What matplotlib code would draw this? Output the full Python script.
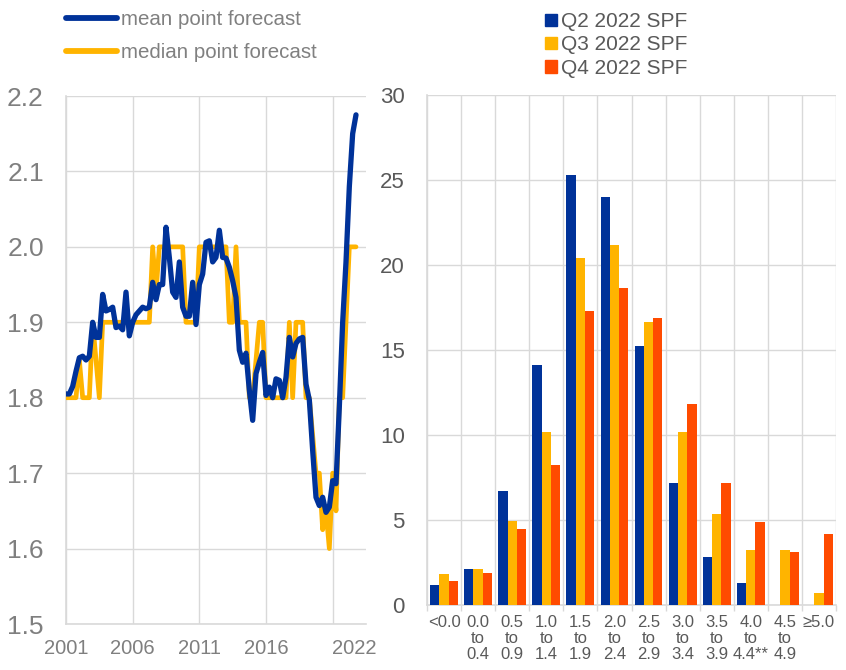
import matplotlib
matplotlib.use("Agg")
import matplotlib.pyplot as plt
import numpy as np
from matplotlib.lines import Line2D
from matplotlib.patches import Patch

plt.rcParams['font.family'] = ['Liberation Sans', 'DejaVu Sans']

# ---------------- data: left panel (quarterly, 2001Q1 - 2022Q4) ----------------
start_year = 2001
mean_forecast = [
    1.805, 1.805, 1.815, 1.835, 1.853, 1.855, 1.850, 1.855, 1.900, 1.880,
    1.880, 1.937, 1.915, 1.917, 1.920, 1.893, 1.895, 1.890, 1.940, 1.882,
    1.900, 1.910, 1.915, 1.920, 1.918, 1.920, 1.953, 1.930, 1.950, 1.950,
    2.026, 1.986, 1.940, 1.933, 1.980, 1.920, 1.908, 1.908, 1.953, 1.897,
    1.950, 1.964, 2.006, 2.008, 1.980, 1.986, 2.022, 1.986, 1.985, 1.973,
    1.955, 1.933, 1.863, 1.847, 1.859, 1.810, 1.770, 1.832, 1.847, 1.860,
    1.803, 1.814, 1.800, 1.825, 1.823, 1.800, 1.827, 1.880, 1.854, 1.872,
    1.878, 1.880, 1.818, 1.797, 1.730, 1.668, 1.657, 1.668, 1.648, 1.655,
    1.690, 1.686, 1.788, 1.900, 1.980, 2.080, 2.150, 2.175,
]
median_forecast = [
    1.80, 1.80, 1.80, 1.80, 1.85, 1.80, 1.80, 1.80, 1.90, 1.85,
    1.80, 1.90, 1.90, 1.90, 1.90, 1.90, 1.90, 1.90, 1.90, 1.90,
    1.90, 1.90, 1.90, 1.90, 1.90, 1.90, 2.00, 1.94, 2.00, 2.00,
    2.00, 2.00, 2.00, 2.00, 2.00, 2.00, 1.90, 1.90, 1.90, 1.90,
    2.00, 2.00, 2.00, 2.00, 2.00, 2.00, 2.00, 2.00, 2.00, 1.90,
    1.90, 2.00, 1.90, 1.90, 1.90, 1.80, 1.80, 1.85, 1.90, 1.90,
    1.80, 1.80, 1.80, 1.80, 1.80, 1.80, 1.80, 1.90, 1.80, 1.90,
    1.90, 1.90, 1.80, 1.80, 1.75, 1.70, 1.70, 1.625, 1.65, 1.60,
    1.70, 1.65, 1.80, 1.80, 1.90, 2.00, 2.00, 2.00,
]
left_yticks = [1.5, 1.6, 1.7, 1.8, 1.9, 2.0, 2.1, 2.2]
left_xticks = [2001, 2006, 2011, 2016, 2021]
left_xlabels = ['2001', '2006', '2011', '2016', '']
last_label = '2022'

# ---------------- data: right panel ----------------
categories = ['<0.0', '0.0\nto\n0.4', '0.5\nto\n0.9', '1.0\nto\n1.4', '1.5\nto\n1.9',
              '2.0\nto\n2.4', '2.5\nto\n2.9', '3.0\nto\n3.4', '3.5\nto\n3.9',
              '4.0\nto\n4.4**', '4.5\nto\n4.9', '\u22655.0']
q2_2022 = [1.18, 2.12, 6.70, 14.10, 25.28, 23.99, 15.23, 7.20, 2.84, 1.31, 0.0, 0.0]
q3_2022 = [1.84, 2.12, 4.94, 10.20, 20.39, 21.18, 16.66, 10.16, 5.33, 3.24, 3.24, 0.73]
q4_2022 = [1.41, 1.90, 4.49, 8.24, 17.27, 18.64, 16.90, 11.82, 7.20, 4.86, 3.12, 4.16]
series_names = ['Q2 2022 SPF', 'Q3 2022 SPF', 'Q4 2022 SPF']

BLUE = '#003299'
YELLOW = '#FFB400'
RED = '#FF4B00'
GRID = '#d9d9d9'

fig = plt.figure(figsize=(8.46, 6.70), dpi=100)

# ---------------- left panel ----------------
axL = fig.add_axes([66/846, 1-624/670, 300/846, 528/670])
x = start_year + np.arange(len(mean_forecast)) / 4.0
axL.plot(x, median_forecast, color=YELLOW, lw=3.4, solid_joinstyle='round', solid_capstyle='round', zorder=3)
axL.plot(x, mean_forecast, color=BLUE, lw=3.8, solid_joinstyle='round', solid_capstyle='round', zorder=4)
axL.set_xlim(2001, 2023.5)
axL.set_ylim(1.5, 2.2)
axL.set_yticks(left_yticks)
axL.set_yticklabels([f'{v:.1f}' for v in left_yticks])
axL.set_xticks(left_xticks)
axL.set_xticklabels(left_xlabels)
axL.set_xticks([2022.65], minor=True)
axL.set_xticklabels([last_label], minor=True)
axL.grid(True, which='major', color=GRID, lw=1.0)
axL.set_axisbelow(True)
for s in ['top', 'right']:
    axL.spines[s].set_visible(False)
for s in ['left', 'bottom']:
    axL.spines[s].set_color(GRID)
    axL.spines[s].set_linewidth(1.2)
axL.tick_params(axis='y', length=0, pad=16, labelsize=19, labelcolor='#7f7f7f')
axL.tick_params(axis='x', which='both', length=0, pad=11, labelsize=14.5, labelcolor='#7f7f7f')

handlesL = [Line2D([0], [0], color=BLUE, lw=4.2, solid_capstyle='round'),
            Line2D([0], [0], color=YELLOW, lw=4.2, solid_capstyle='round')]
fig.legend(handlesL, ['mean point forecast', 'median point forecast'],
           loc='upper left', bbox_to_anchor=(58/846, 1-2/670), frameon=False,
           fontsize=14.8, labelcolor='#808080', handlelength=2.45, handletextpad=0.2,
           labelspacing=0.68, borderaxespad=0)

# ---------------- right panel ----------------
axR = fig.add_axes([427/846, 1-605/670, 409/846, 510/670])
idx = np.arange(len(categories))
w = 0.273
axR.bar(idx - w, q2_2022, width=w, color=BLUE, label=series_names[0], zorder=3)
axR.bar(idx, q3_2022, width=w, color=YELLOW, label=series_names[1], zorder=3)
axR.bar(idx + w, q4_2022, width=w, color=RED, label=series_names[2], zorder=3)
axR.set_xlim(-0.5, len(categories) - 0.5)
axR.set_ylim(0, 30)
axR.set_yticks([0, 5, 10, 15, 20, 25, 30])
axR.set_xticks(idx)
axR.set_xticklabels(categories, linespacing=1.1, va='top')
axR.set_xticks(np.arange(len(categories) + 1) - 0.5, minor=True)
axR.grid(True, axis='y', which='major', color=GRID, lw=1.0)
axR.grid(True, axis='x', which='minor', color=GRID, lw=1.0)
axR.set_axisbelow(True)
for s in ['top', 'right']:
    axR.spines[s].set_visible(False)
for s in ['left', 'bottom']:
    axR.spines[s].set_color(GRID)
    axR.spines[s].set_linewidth(1.2)
axR.tick_params(axis='y', length=0, pad=16, labelsize=16, labelcolor='#595959')
axR.tick_params(axis='x', which='major', length=0, pad=7, labelsize=12, labelcolor='#595959')
axR.tick_params(axis='x', which='minor', length=4, color=GRID, width=1.0)

handlesR = [Patch(color=c) for c in (BLUE, YELLOW, RED)]
fig.legend(handlesR, series_names, loc='upper left', bbox_to_anchor=(537/846, 1-4/670),
           frameon=False, fontsize=15, labelcolor='#595959', handlelength=0.55,
           handleheight=0.55, handletextpad=0.2, labelspacing=0.2, borderaxespad=0)

fig.savefig('out.png', dpi=100)
